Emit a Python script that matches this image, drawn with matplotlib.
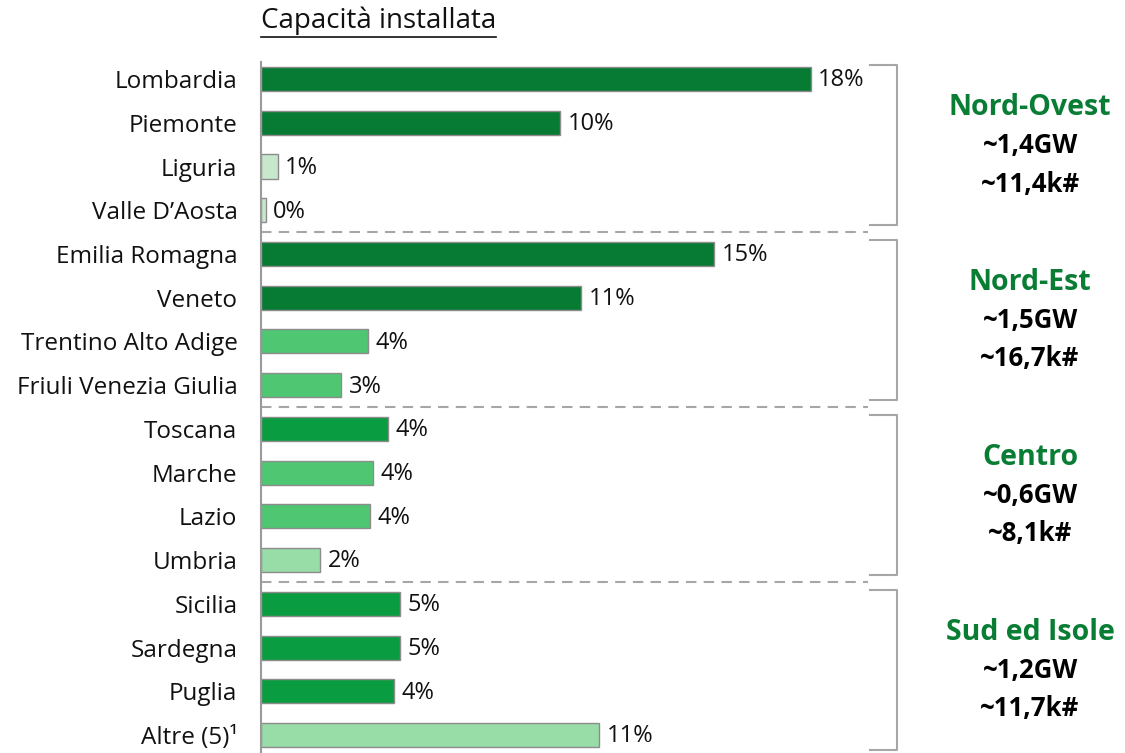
import matplotlib.pyplot as plt
from matplotlib.lines import Line2D

plt.rcParams['font.family'] = ['Open Sans', 'DejaVu Sans']

# data (share of installed capacity, %)
regions = ['Lombardia', 'Piemonte', 'Liguria', "Valle D\u2019Aosta",
           'Emilia Romagna', 'Veneto', 'Trentino Alto Adige', 'Friuli Venezia Giulia',
           'Toscana', 'Marche', 'Lazio', 'Umbria',
           'Sicilia', 'Sardegna', 'Puglia', 'Altre (5)\u00b9']
shares = [18.2, 9.9, 0.55, 0.15,
          15.0, 10.6, 3.55, 2.65,
          4.2, 3.7, 3.6, 1.95,
          4.6, 4.6, 4.4, 11.2]
shade = ['dark', 'dark', 'pale', 'pale',
         'dark', 'dark', 'mid', 'mid',
         'strong', 'mid', 'mid', 'light',
         'strong', 'strong', 'strong', 'light']

groups = ['Nord-Ovest', 'Nord-Est', 'Centro', 'Sud ed Isole']
group_size = [4, 4, 4, 4]
group_gw = ['~1,4GW', '~1,5GW', '~0,6GW', '~1,2GW']
group_count = ['~11,4k#', '~16,7k#', '~8,1k#', '~11,7k#']

palette = {'dark': '#077a34', 'strong': '#0a9c40', 'mid': '#4ec672',
           'light': '#98dca8', 'pale': '#c8e8cc'}
green_txt = '#0a7d35'
grey = '#a6a6a6'

fig = plt.figure(figsize=(11.25, 7.53), dpi=100)
ax = fig.add_axes([261 / 1125, 0, 864 / 1125, 691 / 753])

rows = list(range(len(regions)))
ax.barh(rows, shares, height=0.55, color=[palette[s] for s in shade],
        edgecolor='#8c8c8c', linewidth=1)
for r, v in zip(rows, shares):
    ax.text(v + 0.25, r + 0.03, f'{v:.0f}%', va='center', ha='left', fontsize=17,
            color='#111111')

ax.set_xlim(0, 864 / 30.2)
ax.set_ylim(15.41, -0.39)
ax.set_yticks(rows)
ax.set_yticklabels(regions, fontsize=17.5, color='#111111')
ax.tick_params(axis='y', length=0, pad=17)
ax.set_xticks([])
for side in ['top', 'right', 'bottom']:
    ax.spines[side].set_visible(False)
ax.spines['left'].set_color('#9a9a9a')
ax.spines['left'].set_linewidth(1.5)

# group brackets, separators and labels
x_br = (897 - 261) / 30.2
x_tick = (870 - 261) / 30.2
x_lab = (1030 - 261) / 30.2
start = 0
for i, n in enumerate(group_size):
    end = start + n - 1
    top, bot = start - 0.32, end + 0.34
    ax.add_line(Line2D([x_tick, x_br, x_br, x_tick], [top, top, bot, bot],
                       color=grey, lw=1.5, clip_on=False))
    if i < len(group_size) - 1:
        ax.plot([0, x_tick - 0.05], [end + 0.5, end + 0.5], color=grey, lw=1.5,
                dashes=(5, 3.5), clip_on=False)
    mid = (start + end) / 2
    ax.text(x_lab, mid - 0.84, groups[i], ha='center', va='center', fontsize=20.5,
            fontweight='bold', color=green_txt, clip_on=False)
    ax.text(x_lab, mid + 0.02, group_gw[i], ha='center', va='center', fontsize=18.5,
            fontweight='bold', color='#000000', clip_on=False)
    ax.text(x_lab, mid + 0.9, group_count[i], ha='center', va='center', fontsize=18.5,
            fontweight='bold', color='#000000', clip_on=False)
    start = end + 1

# underlined title
title = fig.text(261 / 1125, 1 - 21 / 753, 'Capacit\u00e0 installata', ha='left',
                 va='center', fontsize=20, color='#111111')
fig.canvas.draw()
bb = title.get_window_extent().transformed(fig.transFigure.inverted())
fig.add_artist(Line2D([bb.x0, bb.x1], [1 - 37 / 753, 1 - 37 / 753],
                      color='#111111', lw=1.2))

fig.savefig('out.png', dpi=100)
